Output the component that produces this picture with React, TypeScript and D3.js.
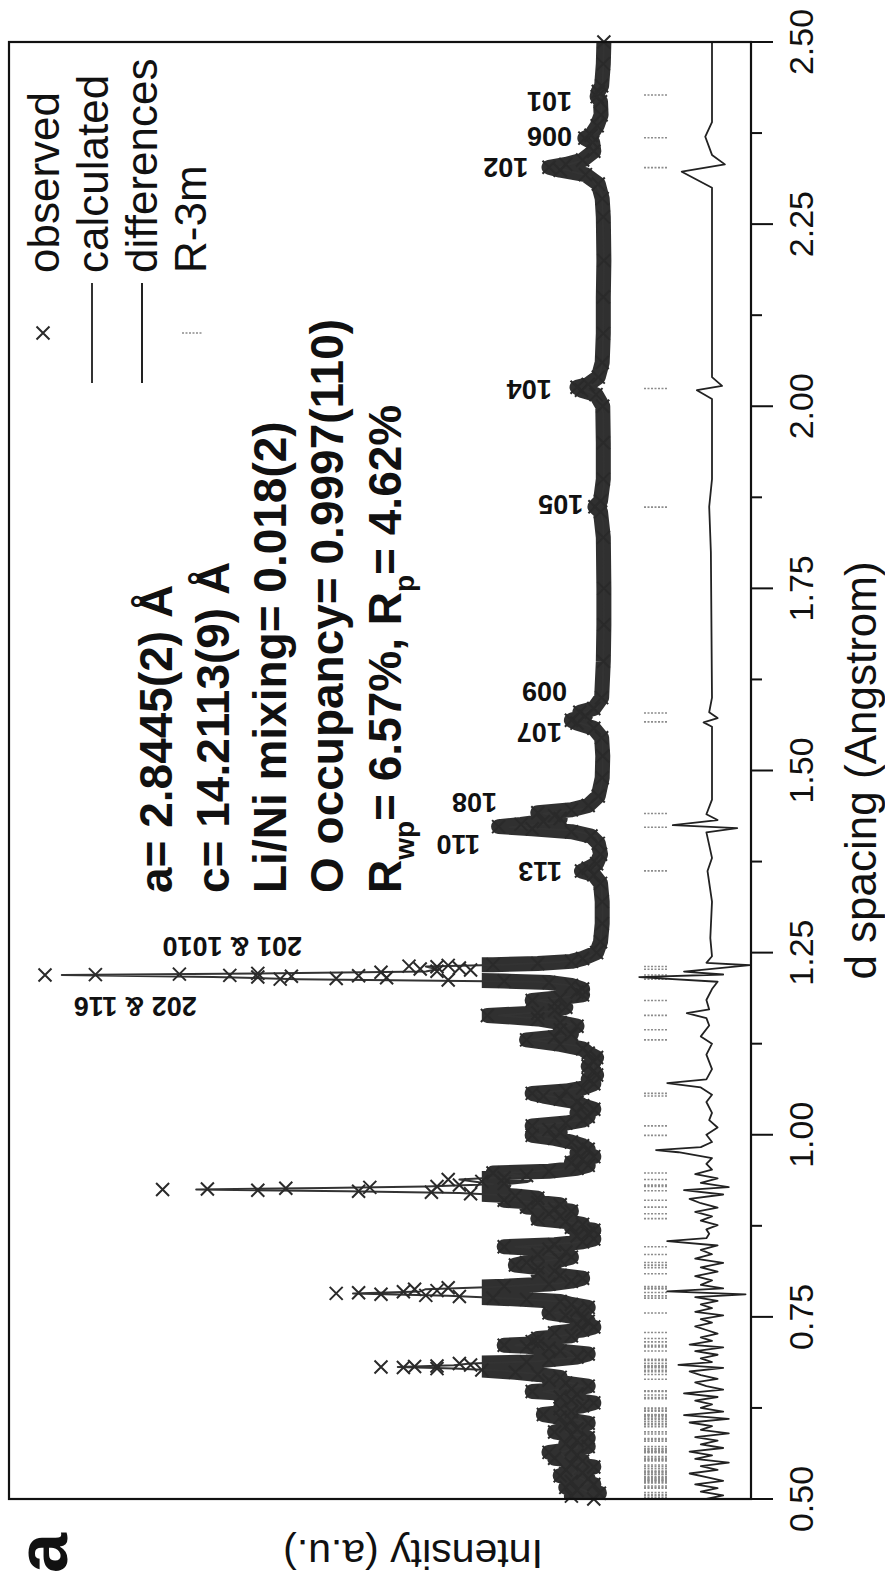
import React from 'react';
import * as d3 from 'd3';

// ---- data ----
const xTicks = [0.5, 0.75, 1.0, 1.25, 1.5, 1.75, 2.0, 2.25, 2.5];
const xMinorTicks = [0.625, 0.875, 1.125, 1.375, 1.625, 1.875, 2.125, 2.375];

// observed points [d (Å), intensity]
const observed: [number, number][] = [
  [0.500, 2], [0.504, 6], [0.508, 1], [0.512, 5], [0.516, 7], [0.520, 2], [0.524, 6], [0.528, 3], [0.532, 8], [0.536, 4],
  [0.540, 7], [0.544, 2], [0.548, 6], [0.552, 4], [0.556, 9], [0.560, 5], [0.564, 10], [0.568, 6], [0.572, 3], [0.576, 7],
  [0.580, 5], [0.584, 3], [0.588, 6], [0.592, 9], [0.596, 5], [0.600, 7], [0.604, 3], [0.608, 6], [0.612, 8], [0.616, 11],
  [0.620, 6], [0.624, 8], [0.628, 4], [0.632, 2], [0.636, 6], [0.640, 8], [0.644, 5], [0.6475, 13], [0.651, 6], [0.655, 3],
  [0.659, 7], [0.663, 10], [0.667, 8], [0.671, 12], [0.674, 16], [0.677, 22], [0.679, 30], [0.6805, 36], [0.6812, 40], [0.6818, 34],
  [0.6825, 30], [0.684, 24], [0.686, 26], [0.688, 14], [0.691, 10], [0.695, 5], [0.699, 3], [0.703, 8], [0.707, 10], [0.7095, 14],
  [0.7111, 18], [0.713, 12], [0.716, 13], [0.7205, 12], [0.724, 6], [0.728, 9], [0.732, 4], [0.736, 2], [0.740, 5], [0.744, 3],
  [0.748, 4], [0.752, 7], [0.7555, 10], [0.759, 5], [0.763, 3], [0.767, 6], [0.771, 8], [0.774, 14], [0.776, 20], [0.778, 26],
  [0.7795, 32], [0.781, 40], [0.7822, 48], [0.7832, 44], [0.7845, 36], [0.786, 30], [0.788, 34], [0.790, 28], [0.792, 18], [0.795, 10],
  [0.799, 6], [0.803, 4], [0.807, 8], [0.810, 12], [0.813, 9], [0.8176, 12], [0.8211, 16], [0.8247, 14], [0.828, 8], [0.832, 6],
  [0.8356, 12], [0.839, 7], [0.843, 10], [0.8463, 18], [0.849, 9], [0.853, 4], [0.857, 2], [0.861, 5], [0.865, 3], [0.869, 2],
  [0.873, 6], [0.877, 4], [0.881, 7], [0.8848, 12], [0.888, 8], [0.8915, 10], [0.895, 6], [0.898, 9], [0.9007, 14], [0.904, 8],
  [0.907, 12], [0.9101, 18], [0.913, 12], [0.916, 16], [0.919, 24], [0.921, 31], [0.9225, 44], [0.9238, 62], [0.9248, 79], [0.9256, 71],
  [0.9265, 57], [0.9278, 42], [0.929, 30], [0.931, 26], [0.933, 18], [0.936, 22], [0.9385, 28], [0.941, 18], [0.944, 14], [0.9474, 20],
  [0.950, 10], [0.954, 5], [0.958, 3], [0.962, 6], [0.966, 4], [0.970, 2], [0.975, 5], [0.980, 3], [0.985, 4], [0.990, 6],
  [0.995, 9], [0.9992, 13], [1.003, 8], [1.007, 10], [1.0122, 13], [1.016, 7], [1.020, 4], [1.025, 3], [1.030, 5], [1.035, 2],
  [1.040, 4], [1.045, 5], [1.049, 8], [1.0531, 11], [1.0568, 13], [1.060, 7], [1.064, 4], [1.070, 2], [1.076, 3], [1.082, 1.5],
  [1.088, 2], [1.094, 3], [1.100, 2], [1.106, 1.5], [1.112, 3], [1.118, 4], [1.124, 8], [1.1302, 14], [1.134, 9], [1.138, 6],
  [1.1441, 8], [1.149, 5], [1.154, 8], [1.159, 12], [1.1638, 21], [1.167, 12], [1.171, 9], [1.175, 7], [1.180, 9], [1.1843, 13],
  [1.188, 8], [1.192, 4], [1.196, 5], [1.200, 4], [1.205, 6], [1.209, 10], [1.211, 18], [1.2125, 28], [1.2136, 58], [1.2145, 48],
  [1.2155, 39], [1.2165, 62], [1.2175, 56], [1.2182, 44], [1.2188, 67], [1.2193, 100], [1.2198, 91], [1.2205, 76], [1.2215, 62], [1.223, 40],
  [1.2245, 30], [1.2262, 24], [1.2275, 33], [1.229, 26], [1.2305, 30], [1.2315, 35], [1.2325, 28], [1.2335, 20], [1.235, 12], [1.238, 6],
  [1.242, 4], [1.250, 1.5], [1.265, 0.8], [1.29, 0.5], [1.32, 0.5], [1.345, 0.8], [1.357, 2], [1.362, 4.2], [1.366, 3], [1.372, 1.5],
  [1.385, 0.8], [1.40, 1.2], [1.41, 2.5], [1.416, 6], [1.420, 13], [1.423, 19], [1.426, 15], [1.430, 11], [1.434, 8], [1.438, 9],
  [1.442, 12], [1.446, 6], [1.452, 3], [1.465, 1.2], [1.49, 0.5], [1.52, 0.4], [1.545, 0.6], [1.558, 2], [1.565, 5], [1.569, 6],
  [1.575, 3.5], [1.580, 4.5], [1.585, 2], [1.60, 0.6], [1.65, 0.3], [1.70, 0.2], [1.75, 0.2], [1.82, 0.3], [1.855, 0.8], [1.862, 1.8],
  [1.87, 0.8], [1.90, 0.3], [1.95, 0.3], [2.00, 0.4], [2.016, 1.6], [2.022, 4.2], [2.026, 5], [2.030, 3], [2.04, 1.2], [2.06, 0.5],
  [2.10, 0.3], [2.15, 0.3], [2.20, 0.2], [2.26, 0.3], [2.285, 0.5], [2.305, 1.2], [2.318, 3.5], [2.324, 8], [2.328, 10], [2.332, 7],
  [2.338, 4], [2.350, 2.0], [2.362, 2.2], [2.368, 3.6], [2.372, 2.5], [2.385, 1.4], [2.40, 0.7], [2.418, 0.8], [2.425, 1.4], [2.432, 1.2],
  [2.44, 0.6], [2.47, 0.3], [2.50, 0.2],
];

// calculated profile [d, intensity]
const calculated: [number, number][] = [
  [0.500, 2], [0.510, 3], [0.516, 5], [0.522, 3], [0.528, 4], [0.533, 6], [0.540, 5], [0.548, 4], [0.556, 7], [0.564, 8],
  [0.570, 5], [0.578, 5], [0.586, 4], [0.592, 7], [0.600, 6], [0.606, 4], [0.616, 9], [0.624, 7], [0.632, 3], [0.640, 6],
  [0.6475, 11], [0.655, 4], [0.663, 8], [0.671, 11], [0.676, 18], [0.679, 27], [0.6812, 37], [0.6835, 27], [0.686, 24], [0.689, 12],
  [0.695, 5], [0.703, 7], [0.7111, 16], [0.716, 12], [0.7205, 11], [0.726, 6], [0.734, 3], [0.744, 3], [0.7555, 9], [0.762, 4],
  [0.770, 6], [0.775, 16], [0.779, 28], [0.7822, 45], [0.785, 33], [0.788, 32], [0.791, 20], [0.796, 8], [0.803, 5], [0.810, 10],
  [0.8176, 11], [0.8211, 15], [0.8247, 13], [0.830, 7], [0.8356, 11], [0.840, 7], [0.8463, 16], [0.852, 5], [0.860, 3], [0.870, 3],
  [0.878, 5], [0.8848, 11], [0.8915, 9], [0.897, 7], [0.9007, 13], [0.905, 9], [0.9101, 17], [0.916, 15], [0.920, 26], [0.9225, 46],
  [0.9248, 73], [0.927, 50], [0.929, 32], [0.932, 20], [0.9385, 26], [0.943, 15], [0.9474, 18], [0.952, 8], [0.960, 4], [0.972, 3],
  [0.985, 4], [0.993, 7], [0.9992, 12], [1.005, 8], [1.0122, 12], [1.020, 4], [1.030, 3], [1.045, 4], [1.0531, 10], [1.0568, 12],
  [1.063, 5], [1.075, 2.5], [1.090, 2], [1.110, 2.5], [1.122, 5], [1.1302, 13], [1.137, 7], [1.1441, 8], [1.152, 6], [1.158, 9],
  [1.1638, 19], [1.170, 9], [1.178, 8], [1.1843, 12], [1.190, 6], [1.198, 4], [1.205, 6], [1.210, 12], [1.2136, 55], [1.2165, 70],
  [1.2193, 97], [1.2215, 62], [1.224, 32], [1.2271, 30], [1.231, 32], [1.2335, 18], [1.237, 8], [1.242, 3.5], [1.250, 1.5], [1.265, 0.8],
  [1.300, 0.4], [1.340, 0.6], [1.355, 1.5], [1.3622, 3.6], [1.368, 1.5], [1.390, 0.6], [1.410, 1.5], [1.418, 6], [1.4222, 17], [1.428, 9],
  [1.434, 7], [1.4409, 11], [1.447, 4], [1.460, 1.2], [1.490, 0.4], [1.540, 0.4], [1.558, 1.8], [1.5667, 5], [1.573, 3.2], [1.579, 4],
  [1.586, 1.4], [1.610, 0.4], [1.700, 0.2], [1.840, 0.3], [1.855, 0.8], [1.8615, 1.6], [1.868, 0.7], [1.890, 0.2], [1.990, 0.3], [2.014, 1.3],
  [2.0244, 4.2], [2.032, 1.4], [2.060, 0.4], [2.200, 0.2], [2.290, 0.5], [2.315, 2.5], [2.3275, 8.5], [2.340, 2.8], [2.358, 2], [2.3686, 3.2],
  [2.378, 1.2], [2.410, 0.6], [2.4272, 1.1], [2.445, 0.4], [2.500, 0.2],
];

// difference curve [d, obs - calc]
const difference: [number, number][] = [
  [0.500, 1], [0.505, -2], [0.510, 2], [0.515, -1], [0.520, 3], [0.525, -2], [0.530, 1], [0.535, 4], [0.540, -1], [0.545, 2],
  [0.550, -3], [0.555, 3], [0.560, 0], [0.565, 4], [0.570, -2], [0.575, 2], [0.580, -1], [0.585, 3], [0.590, -3], [0.595, 2],
  [0.600, 0], [0.605, 4], [0.610, -3], [0.615, 5], [0.620, -2], [0.625, 2], [0.630, 0], [0.635, 3], [0.640, -1], [0.645, 5],
  [0.650, -2], [0.655, 1], [0.660, 3], [0.665, -1], [0.670, 2], [0.675, 4], [0.680, -2], [0.684, 6], [0.688, 0], [0.693, 2],
  [0.698, -1], [0.703, 3], [0.708, -2], [0.712, 4], [0.717, 0], [0.722, 2], [0.727, -1], [0.732, 1], [0.737, 3], [0.742, 0],
  [0.747, 2], [0.752, -2], [0.757, 3], [0.762, 0], [0.767, 2], [0.772, -1], [0.777, 3], [0.781, -6], [0.785, 8], [0.789, -2],
  [0.794, 2], [0.800, 0], [0.806, 3], [0.812, -1], [0.818, 2], [0.824, -2], [0.830, 3], [0.836, 0], [0.842, 2], [0.848, -1],
  [0.854, 8], [0.858, 1], [0.864, 0.5], [0.870, 1], [0.876, -1], [0.882, 2], [0.888, 0], [0.894, 3], [0.900, -1], [0.906, 2],
  [0.912, 4], [0.918, -2], [0.924, 5], [0.928, -3], [0.934, 2], [0.940, -1], [0.946, 3], [0.952, 0], [0.960, 1], [0.968, 0],
  [0.976, 6], [0.979, 10], [0.983, 2], [0.990, 0], [1.000, 1], [1.010, -1], [1.020, 0.5], [1.030, 0], [1.045, 1], [1.055, 0],
  [1.065, 2], [1.071, 8], [1.076, 1], [1.090, 0], [1.110, 1], [1.125, 0], [1.135, 2], [1.150, 0.5], [1.160, 1], [1.167, 4.5],
  [1.172, 0.5], [1.185, 1], [1.200, 0], [1.210, -1], [1.2165, 13], [1.2200, -2], [1.2240, 5], [1.2327, -6.8], [1.236, 1], [1.245, 0],
  [1.270, 0.3], [1.320, 0], [1.362, 0.8], [1.380, 0], [1.415, 1], [1.421, -4.5], [1.425, 7], [1.432, -1], [1.440, 1], [1.460, 0],
  [1.560, 0], [1.566, 1.5], [1.572, -1], [1.580, 0.5], [1.600, 0], [1.800, 0.2], [1.862, 0.5], [1.900, 0], [2.010, 0], [2.022, 2.7],
  [2.028, -1.8], [2.040, 0], [2.200, 0], [2.300, 0], [2.322, 5.4], [2.332, -2.3], [2.345, 0], [2.370, 1.2], [2.390, 0], [2.500, 0],
];

// R-3m reflection positions (d, Å)
const reflections = [
  2.4272, 2.3686, 2.3275, 2.0244, 1.8615, 1.5790, 1.5667, 1.4409, 1.4222, 1.3622, 1.2310, 1.2271, 1.2193, 1.2136, 1.1843,
  1.1638, 1.1441, 1.1302, 1.0568, 1.0531, 1.0122, 0.9992, 0.9474, 0.9385, 0.9308, 0.9291, 0.9232, 0.9101, 0.9007, 0.8915,
  0.8848, 0.8463, 0.8356, 0.8247, 0.8211, 0.8176, 0.8091, 0.7916, 0.7895, 0.7885, 0.7834, 0.7788, 0.7758, 0.7554, 0.7285,
  0.7204, 0.7157, 0.7111, 0.7088, 0.7032, 0.6917, 0.6903, 0.6862, 0.6827, 0.6824, 0.6811, 0.6801, 0.6767, 0.6748, 0.6709,
  0.6643, 0.6484, 0.6475, 0.6427, 0.6393, 0.6377, 0.6248, 0.6220, 0.6205, 0.6158, 0.6155, 0.6153, 0.6136, 0.6111, 0.6097,
  0.6068, 0.6040, 0.6019, 0.5993, 0.5921, 0.5893, 0.5831, 0.5819, 0.5794, 0.5721, 0.5691, 0.5687, 0.5668, 0.5651, 0.5649,
  0.5647, 0.5634, 0.5581, 0.5559, 0.5543, 0.5539, 0.5523, 0.5467, 0.5444, 0.5416, 0.5385, 0.5376, 0.5366, 0.5341, 0.5336,
  0.5307, 0.5290, 0.5284, 0.5265, 0.5263, 0.5251, 0.5242, 0.5222, 0.5178, 0.5161, 0.5148, 0.5089, 0.5061, 0.5045, 0.5020,
];

// peak labels: text, d at label centre, intensity where label starts
const peakLabelText = ['101', '006', '102', '104', '105', '009', '107', '108', '110', '113', '201 & 1010', '202 & 116'];
const peakLabelD = [2.4176, 2.3696, 2.327, 2.0223, 1.8644, 1.6077, 1.5515, 1.4554, 1.3977, 1.3607, 1.2577, 1.1754];
const peakLabelAt = [5.9, 5.9, 13.7, 9.5, 3.9, 6.8, 7.7, 19.3, 22.3, 7.7, 54.1, 72.9];

const legendItems = ['observed', 'calculated', 'differences', 'R-3m'];
const annotationLines = ['a= 2.8445(2) Å', 'c= 14.2113(9) Å', 'Li/Ni mixing= 0.018(2)', 'O occupancy= 0.9997(110)'];
const rFactors = { rwp: '6.57%', rp: '4.62%' };

const FONT = "'Liberation Sans', Arial, Helvetica, sans-serif";

export default function App() {
  const x = d3.scaleLinear().domain([0.5, 2.5]).range([81, 1538]);
  const y = d3.scaleLinear().domain([0, 100]).range([605, 45]);
  const yDiff = d3.scaleLinear().domain([0, 100]).range([712, 152]);
  const plotTop = 9;
  const plotBottom = 751;
  const sorted = (a: [number, number][]) => [...a].sort((p, q) => p[0] - q[0]);
  const obs = sorted(observed);
  const calc = sorted(calculated);
  const diff = sorted(difference);
  const line = d3.line<[number, number]>().x(p => x(p[0])).y(p => y(p[1]));
  const dline = d3.line<[number, number]>().x(p => x(p[0])).y(p => yDiff(p[1]));
  const bandTop = y(22);
  const fmt = d3.format('.2f');
  const cross = 'M-6.5,-6.5L6.5,6.5M-6.5,6.5L6.5,-6.5';

  return (
    <svg width={885} height={1580} style={{ position: 'absolute', left: 0, top: 0 }} fontFamily={FONT}>
      <rect width={885} height={1580} fill="#fff" />
      <g transform="translate(0,1580) rotate(-90)">
        <defs>
          <clipPath id="bandClip">
            <rect x={x(0.5)} y={bandTop} width={x(2.5) - x(0.5)} height={plotBottom - bandTop} />
          </clipPath>
        </defs>

        {/* R-3m reflection ticks */}
        <g stroke="#8c8c8c" strokeWidth={1.6} strokeDasharray="2 1.5">
          {reflections.map((r, i) => (
            <line key={i} x1={x(r)} x2={x(r)} y1={644} y2={668} />
          ))}
        </g>

        {/* difference curve */}
        <path d={dline(diff) || ''} fill="none" stroke="#222" strokeWidth={1.8} strokeLinejoin="round" />

        {/* observed: dense band of overlapping markers */}
        <path d={line(obs) || ''} fill="none" stroke="#1e1e1e" strokeWidth={15} strokeLinejoin="round"
          strokeLinecap="round" clipPath="url(#bandClip)" opacity={0.92} />

        {/* calculated */}
        <path d={line(calc) || ''} fill="none" stroke="#333" strokeWidth={2} strokeLinejoin="round" />

        {/* observed markers */}
        <g stroke="#2a2a2a" strokeWidth={2} fill="none">
          {obs.map((p, i) => (
            <path key={i} d={cross} transform={`translate(${x(p[0])},${y(p[1])})`} />
          ))}
        </g>

        {/* peak labels */}
        <g fontSize={27} fontWeight="bold" fill="#111">
          {peakLabelText.map((t, i) => (
            <text key={i} transform={`translate(${x(peakLabelD[i])},${y(peakLabelAt[i])}) rotate(-90)`} dy="0.36em">{t}</text>
          ))}
        </g>

        {/* frame */}
        <rect x={x(0.5)} y={plotTop} width={x(2.5) - x(0.5)} height={plotBottom - plotTop} fill="none" stroke="#111" strokeWidth={2.2} />

        {/* x ticks */}
        <g stroke="#111" strokeWidth={2}>
          {xTicks.map((t, i) => <line key={i} x1={x(t)} x2={x(t)} y1={plotBottom} y2={plotBottom + 22} />)}
          {xMinorTicks.map((t, i) => <line key={'m' + i} x1={x(t)} x2={x(t)} y1={plotBottom} y2={plotBottom + 11} />)}
        </g>
        <g fontSize={34} fill="#111" textAnchor="middle">
          {xTicks.map((t, i) => <text key={i} x={x(t)} y={813}>{fmt(t)}</text>)}
        </g>
        <text x={(x(0.5) + x(2.5)) / 2} y={876} fontSize={44} textAnchor="middle" fill="#111">d spacing (Angstrom)</text>
        <text transform="translate(40,413) rotate(-90)" fontSize={41} textAnchor="middle" fill="#111">Intensity (a.u.)</text>
        <text x={7} y={67} fontSize={72} fontWeight="bold" fill="#111">a</text>

        {/* legend */}
        <g fill="#111" fontSize={44}>
          {legendItems.map((t, i) => (
            <text key={i} x={1307} y={59 + i * 49}>{t}</text>
          ))}
        </g>
        <path d={cross} transform="translate(1247,43)" stroke="#2a2a2a" strokeWidth={2} fill="none" />
        <line x1={1197} x2={1297} y1={92} y2={92} stroke="#333" strokeWidth={2} />
        <line x1={1197} x2={1297} y1={142} y2={142} stroke="#222" strokeWidth={2} />
        <line x1={1247} x2={1247} y1={182} y2={202} stroke="#8c8c8c" strokeWidth={1.6} strokeDasharray="2 1.5" />

        {/* refinement annotation */}
        <g fontSize={46} fontWeight="bold" fill="#111">
          {annotationLines.map((t, i) => (
            <text key={i} x={687} y={172 + i * 57}>{t}</text>
          ))}
          <text x={687} y={401}>
            R<tspan fontSize={28} dy={13}>wp</tspan><tspan dy={-13}>= {rFactors.rwp}, R</tspan>
            <tspan fontSize={28} dy={13}>p</tspan><tspan dy={-13}>= {rFactors.rp}</tspan>
          </text>
        </g>
      </g>
    </svg>
  );
}
